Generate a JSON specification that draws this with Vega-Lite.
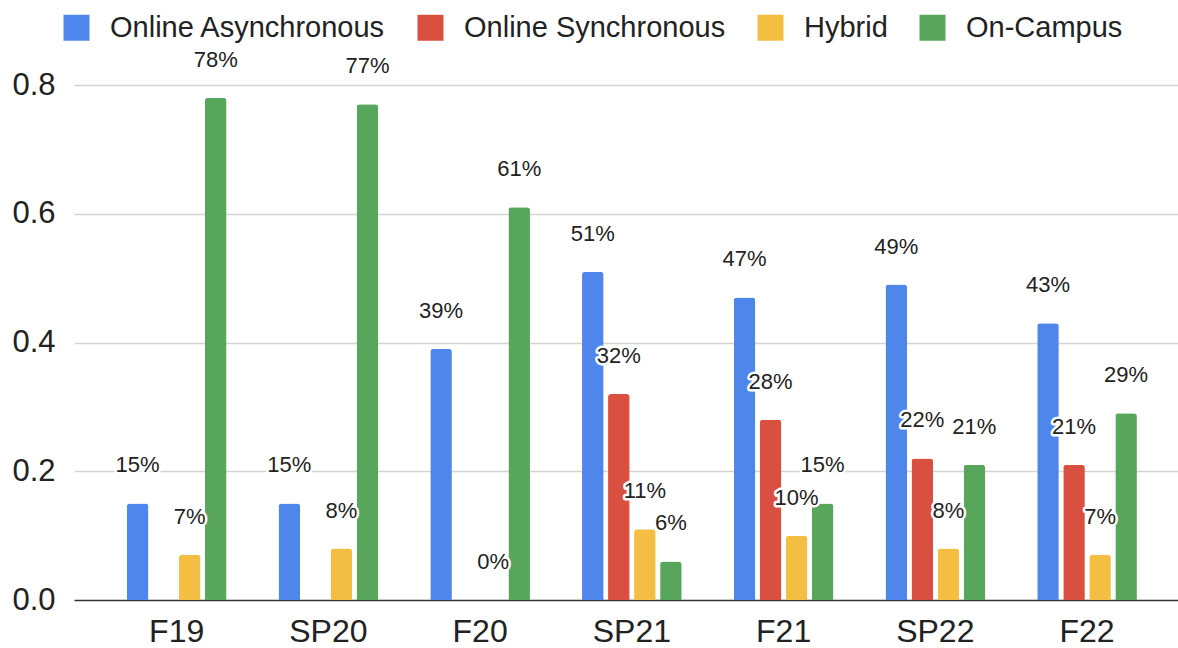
{
  "$schema": "https://vega.github.io/schema/vega-lite/v6.json",
  "width": 1104,
  "height": 515,
  "autosize": {"type": "none"},
  "padding": {"left": 74, "top": 85, "right": 0, "bottom": 48},
  "background": "white",
  "config": {"view": {"stroke": null}, "font": "Liberation Sans"},
  "data": {
    "values": [
      {"term": "F19", "mode": "Online Asynchronous", "value": 0.15},
      {"term": "F19", "mode": "Hybrid", "value": 0.07},
      {"term": "F19", "mode": "On-Campus", "value": 0.78},
      {"term": "SP20", "mode": "Online Asynchronous", "value": 0.15},
      {"term": "SP20", "mode": "Hybrid", "value": 0.08},
      {"term": "SP20", "mode": "On-Campus", "value": 0.77},
      {"term": "F20", "mode": "Online Asynchronous", "value": 0.39},
      {"term": "F20", "mode": "Hybrid", "value": 0},
      {"term": "F20", "mode": "On-Campus", "value": 0.61},
      {"term": "SP21", "mode": "Online Asynchronous", "value": 0.51},
      {"term": "SP21", "mode": "Online Synchronous", "value": 0.32},
      {"term": "SP21", "mode": "Hybrid", "value": 0.11},
      {"term": "SP21", "mode": "On-Campus", "value": 0.06},
      {"term": "F21", "mode": "Online Asynchronous", "value": 0.47},
      {"term": "F21", "mode": "Online Synchronous", "value": 0.28},
      {"term": "F21", "mode": "Hybrid", "value": 0.10},
      {"term": "F21", "mode": "On-Campus", "value": 0.15},
      {"term": "SP22", "mode": "Online Asynchronous", "value": 0.49},
      {"term": "SP22", "mode": "Online Synchronous", "value": 0.22},
      {"term": "SP22", "mode": "Hybrid", "value": 0.08},
      {"term": "SP22", "mode": "On-Campus", "value": 0.21},
      {"term": "F22", "mode": "Online Asynchronous", "value": 0.43},
      {"term": "F22", "mode": "Online Synchronous", "value": 0.21},
      {"term": "F22", "mode": "Hybrid", "value": 0.07},
      {"term": "F22", "mode": "On-Campus", "value": 0.29}
    ]
  },
  "encoding": {
    "x": {
      "field": "term",
      "type": "nominal",
      "sort": ["F19", "SP20", "F20", "SP21", "F21", "SP22", "F22"],
      "scale": {"paddingInner": 0, "paddingOuter": 0.138, "align": 0.64},
      "axis": {
        "title": null,
        "labelAngle": 0,
        "labelFontSize": 32,
        "labelColor": "#222222",
        "labelPadding": 16,
        "domain": false,
        "ticks": false,
        "grid": false
      }
    },
    "xOffset": {
      "field": "mode",
      "type": "nominal",
      "scale": {
        "domain": ["Online Asynchronous", "Online Synchronous", "Hybrid", "On-Campus"],
        "paddingInner": 0.171,
        "paddingOuter": 1.082
      }
    },
    "y": {
      "field": "value",
      "type": "quantitative",
      "scale": {"domain": [0, 0.8], "nice": false},
      "axis": {
        "title": null,
        "values": [0, 0.2, 0.4, 0.6, 0.8],
        "format": ".1f",
        "labelFontSize": 31,
        "labelColor": "#222222",
        "labelPadding": 19,
        "domain": false,
        "ticks": false,
        "gridColor": {"condition": {"test": "datum.value === 0", "value": "#333333"}, "value": "#d4d4d4"},
        "gridWidth": 1.5
      }
    }
  },
  "layer": [
    {
      "mark": {"type": "bar", "cornerRadiusTopLeft": 3, "cornerRadiusTopRight": 3},
      "encoding": {
        "color": {
          "field": "mode",
          "type": "nominal",
          "scale": {
            "domain": ["Online Asynchronous", "Online Synchronous", "Hybrid", "On-Campus"],
            "range": ["#4f86ec", "#d95040", "#f4be42", "#58a65c"]
          },
          "legend": {
            "orient": "none",
            "direction": "horizontal",
            "legendX": -12,
            "legendY": -72,
            "title": null,
            "labelFontSize": 29,
            "labelColor": "#222222",
            "labelLimit": 500,
            "symbolType": "square",
            "symbolSize": 676,
            "symbolStrokeWidth": 0,
            "symbolOpacity": 1,
            "labelOffset": 19,
            "columnPadding": 30
          }
        }
      }
    },
    {
      "mark": {"type": "text", "dy": -38, "baseline": "middle", "fontSize": 22, "fill": "white", "stroke": "white", "strokeWidth": 5, "strokeJoin": "round"},
      "encoding": {"text": {"field": "value", "type": "quantitative", "format": ".0%"}}
    },
    {
      "mark": {"type": "text", "dy": -38, "baseline": "middle", "fontSize": 22, "fill": "#222222"},
      "encoding": {"text": {"field": "value", "type": "quantitative", "format": ".0%"}}
    }
  ]
}
